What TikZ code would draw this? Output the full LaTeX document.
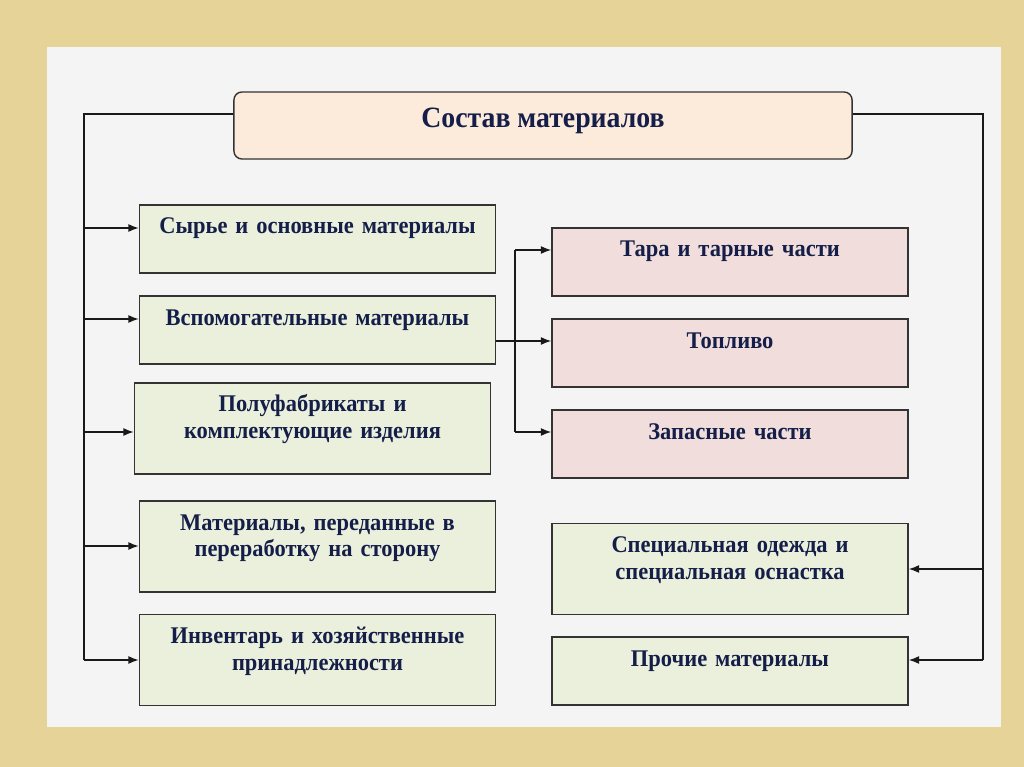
\documentclass[tikz,border=0pt]{standalone}
\usepackage{fontspec}
\setmainfont[FakeStretch=0.94]{Liberation Serif}
\usepackage{xcolor}
\usetikzlibrary{arrows.meta}

\definecolor{paper}{RGB}{230,211,152}
\definecolor{panel}{RGB}{244,244,244}
\definecolor{headfill}{RGB}{252,234,218}
\definecolor{greenfill}{RGB}{235,240,221}
\definecolor{pinkfill}{RGB}{240,221,220}
\definecolor{navy}{RGB}{20,30,72}

\begin{document}
\begin{tikzpicture}[
            x=0.025cm, y=-0.025cm,
            head/.style={rectangle, rounded corners=0.2cm, draw=black!80, line width=1pt, fill=headfill, minimum width=15.45cm, inner ysep=0pt, text height=0.9cm, text depth=0.775cm, font=\fontsize{21}{24}\selectfont\bfseries, text=navy},
            item/.style={rectangle, draw=black!80, line width=1pt, fill=greenfill, text width=8.9cm, align=center, inner xsep=0pt, inner ysep=0pt, text height=0.725cm, font=\fontsize{17}{19.2}\selectfont\bfseries, text=navy},
            short/.style={item, text depth=0.975cm},
            tall/.style={item, text depth=1.55cm},
            spare/.style={fill=pinkfill},
            line/.style={draw=black!90, line width=1pt},
            arr/.style={line, -{Latex[length=2.6mm, width=2mm]}}
        ]
            % Background
            \useasboundingbox (0,0) rectangle (1024,767);
            \fill[paper] (0,0) rectangle (1024,767);
            \fill[panel] (47,47) rectangle (1001,727);

            % Nodes
            \node[head] (title) at (543,125.5) {Состав материалов};

            \node[short] (raw) at (317.5,239) {Сырье и основные материалы};
            \node[short] (aux) at (317.5,330) {Вспомогательные материалы};
            \node[tall] (semi) at (312.5,428.5) {Полуфабрикаты и\\комплектующие изделия};
            \node[tall] (proc) at (317.5,546.5) {Материалы, переданные в\\переработку на сторону};
            \node[tall] (inv) at (317.5,660) {Инвентарь и хозяйственные\\принадлежности};

            \node[short, spare] (tare) at (730,262) {Тара и тарные части};
            \node[short, spare] (fuel) at (730,353) {Топливо};
            \node[short, spare] (parts) at (730,444) {Запасные части};
            \node[tall] (wear) at (730,569) {Специальная одежда и\\специальная оснастка};
            \node[short] (other) at (730,671) {Прочие материалы};

            % Trunks
            \coordinate (ltop) at (84,114);
            \coordinate (rtop) at (983,114);
            \coordinate (l1) at (84,228);
            \coordinate (l2) at (84,319);
            \coordinate (l3) at (84,432);
            \coordinate (l4) at (84,546);
            \coordinate (l5) at (84,660);
            \coordinate (r4) at (983,569);
            \coordinate (r5) at (983,660);
            \coordinate (m1) at (515,250);
            \coordinate (m2) at (515,341);
            \coordinate (m3) at (515,432);

            \draw[line] (title.west |- ltop) -- (ltop) -- (l5);
            \draw[line] (title.east |- rtop) -- (rtop) -- (r5);
            \draw[line] (aux.east |- m2) -- (m2);
            \draw[line] (m1) -- (m3);

            % Arrows
            \foreach \c/\n in {l1/raw, l2/aux, l3/semi, l4/proc, l5/inv}
                \draw[arr] (\c) -- (\c -| \n.west);
            \foreach \c/\n in {m1/tare, m2/fuel, m3/parts}
                \draw[arr] (\c) -- (\c -| \n.west);
            \foreach \c/\n in {r4/wear, r5/other}
                \draw[arr] (\c) -- (\c -| \n.east);

        \end{tikzpicture}
\end{document}
